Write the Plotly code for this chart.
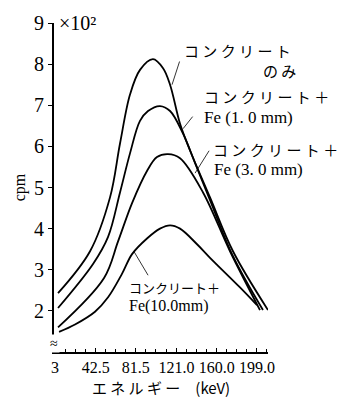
import plotly.graph_objects as go

# ---- data (energy keV, counts x10^2 cpm) ----
x_conc = [5.9, 37.0, 56.4, 66.1, 75.8, 85.5, 98.1, 107.9, 114.7, 124.4, 134.1, 153.5, 175.8, 209.8]
y_conc = [2.43, 3.45, 4.76, 6.07, 7.26, 7.86, 8.12, 7.90, 7.50, 6.55, 5.90, 4.76, 3.45, 2.02]

x_fe1 = [5.9, 39.9, 54.5, 66.1, 75.8, 85.5, 93.3, 104.9, 114.7, 127.3, 138.9, 153.5, 175.8, 204.9]
y_fe1 = [2.07, 3.14, 3.80, 4.88, 5.83, 6.62, 6.86, 6.98, 6.86, 6.31, 5.60, 4.69, 3.33, 2.02]

x_fe3 = [5.9, 50.6, 64.2, 77.8, 92.3, 102.0, 112.7, 124.4, 146.7, 172.9, 202.0]
y_fe3 = [1.60, 2.80, 3.69, 4.62, 5.40, 5.74, 5.81, 5.71, 4.88, 3.45, 2.02]

x_fe10 = [6.9, 22.4, 41.8, 54.5, 68.0, 77.8, 92.3, 104.9, 114.7, 124.4, 140.9, 153.5, 182.6, 199.1]
y_fe10 = [1.49, 1.67, 1.98, 2.33, 2.90, 3.38, 3.76, 4.00, 4.08, 4.00, 3.62, 3.29, 2.57, 2.14]

x_tickvals = [3, 42.5, 81.5, 121.0, 160.0, 199.0]
x_ticktext = ["3", "42.5", "81.5", "121.0", "160.0", "199.0"]
y_tickvals = [2, 3, 4, 5, 6, 7, 8, 9]
y_ticktext = ["2", "3", "4", "5", "6", "7", "8", "9"]

JP = "Noto Sans CJK JP"
SERIF = "Liberation Serif"

fig = go.Figure()
for xs, ys in [(x_conc, y_conc), (x_fe1, y_fe1), (x_fe3, y_fe3), (x_fe10, y_fe10)]:
    fig.add_trace(go.Scatter(x=xs, y=ys, mode="lines",
                             line=dict(color="black", width=1.8, shape="spline", smoothing=1.0),
                             showlegend=False, hoverinfo="skip"))

fig.update_layout(
    width=354, height=407, autosize=False,
    margin=dict(l=54, r=86, t=17, b=54),
    plot_bgcolor="white", paper_bgcolor="white",
    font=dict(family=SERIF, color="black"),
)
fig.update_xaxes(range=[2, 209.8], showgrid=False, zeroline=False,
                 showline=True, linecolor="black", linewidth=2,
                 tickmode="array", tickvals=x_tickvals, ticktext=x_ticktext,
                 tickangle=0,
                 ticks="inside", ticklen=4, tickcolor="black",
                 tickfont=dict(family=SERIF, size=16),
                 minor=dict(tickmode="linear", tick0=3, dtick=9.8, ticks="inside", ticklen=3,
                            tickcolor="black"),
                 title=dict(text="エ ネ ル ギ ー　(keV)", font=dict(family=JP, size=15), standoff=8))
fig.update_yaxes(range=[1, 9], showgrid=False, zeroline=False,
                 showline=True, linecolor="black", linewidth=2,
                 tickmode="array", tickvals=y_tickvals, ticktext=y_ticktext,
                 ticks="outside", ticklen=4, tickcolor="black",
                 tickfont=dict(family=SERIF, size=20),
                 title=dict(text="cpm", font=dict(family=SERIF, size=16), standoff=4))

def label(text, px, py, size, anchor="left", fam=JP):
    # position given in pixel space of the figure, converted to paper coords
    fig.add_annotation(x=(px - 54) / 214, y=(353 - py) / 336, xref="paper", yref="paper",
                       text=text, showarrow=False,
                       xanchor=anchor, yanchor="middle",
                       font=dict(family=fam, size=size, color="black"))

label("コ ン ク リ ー ト", 182, 45, 15)
label("の み", 298, 65, 15, anchor="right")
label("コ ン ク リ ー ト ＋", 202, 92, 15)
label("Fe (1. 0 mm)", 202, 113, 17, fam=SERIF)
label("コ ン ク リ ー ト ＋", 211, 146, 15)
label("Fe (3. 0 mm)", 212, 167, 17, fam=SERIF)
label("コンクリート＋", 127, 287, 13)
label("Fe(10.0mm)", 127, 306, 16, fam=SERIF)

# leader lines
def leader(x0, y0, x1, y1):
    fig.add_annotation(x=x1, y=y1, ax=x0, ay=y0, xref="x", yref="y", axref="x", ayref="y",
                       text="", showarrow=True, arrowhead=0, arrowwidth=0.8, arrowcolor="black")

leader(124.4, 8.1, 116.6, 7.5)
leader(137.8, 6.76, 127.3, 6.43)
leader(153.5, 5.93, 139.0, 5.35)
leader(94.2, 2.83, 79.5, 3.45)

# x10^2 and axis break
fig.add_annotation(x=0, y=9, xref="paper", yref="y", text="×10²", showarrow=False,
                   xanchor="left", yanchor="middle", xshift=3,
                   font=dict(family=SERIF, size=20, color="black"))
fig.add_annotation(x=0, y=1.21, xref="paper", yref="y", text="≈", showarrow=False,
                   xanchor="center", yanchor="middle", bgcolor="white",
                   font=dict(family=SERIF, size=14, color="black"))

fig.write_html("out.html")
